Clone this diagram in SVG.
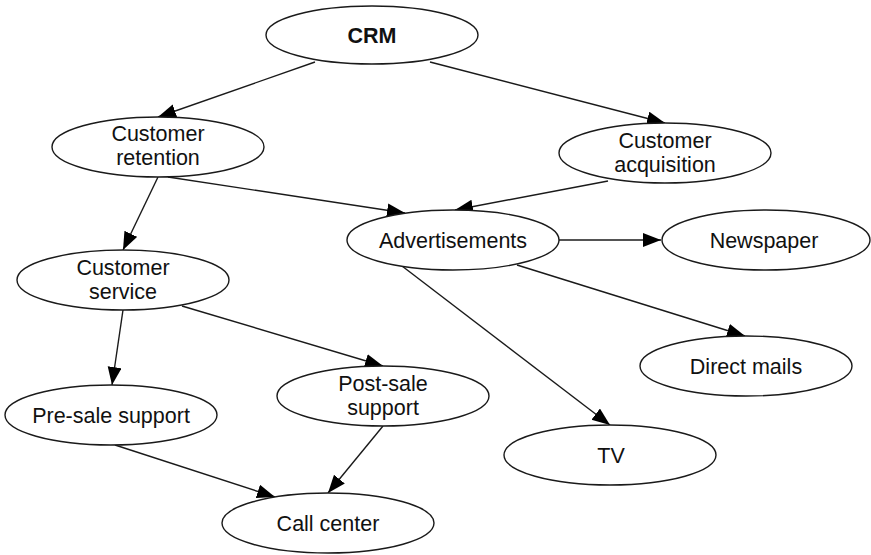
<svg xmlns="http://www.w3.org/2000/svg" width="871" height="555" viewBox="0 0 871 555">
  <style>
    .node ellipse { fill: #ffffff; stroke: #1a1a1a; stroke-width: 1.4; }
    .node text { font-family: "Liberation Sans", Arial, sans-serif; font-size: 21.5px; fill: #111111; text-anchor: middle; }
    .node text.bold { font-weight: bold; }
    .edges line { stroke: #1a1a1a; stroke-width: 1.4; marker-end: url(#arrow); }
  </style>
  <defs>
    <marker id="arrow" markerUnits="userSpaceOnUse" markerWidth="19" markerHeight="15" refX="18" refY="7" orient="auto">
      <path d="M0,0 L18,7 L0,14 z" fill="#000000"/>
    </marker>
  </defs>
  <rect width="871" height="555" fill="#ffffff"/>

  <!-- connectors -->
  <g id="edges" class="edges">
    <line x1="315" y1="62" x2="158" y2="117"/>
    <line x1="430" y1="62" x2="665" y2="123"/>
    <line x1="168" y1="177" x2="405" y2="213"/>
    <line x1="608" y1="181" x2="455" y2="210"/>
    <line x1="559" y1="240" x2="661" y2="240"/>
    <line x1="517" y1="265" x2="745" y2="336"/>
    <line x1="402" y1="266" x2="610" y2="425"/>
    <line x1="158" y1="177" x2="123" y2="250"/>
    <line x1="123" y1="310" x2="112" y2="385"/>
    <line x1="182" y1="306" x2="383" y2="366"/>
    <line x1="115" y1="445" x2="275" y2="497"/>
    <line x1="383" y1="426" x2="328" y2="493"/>
  </g>

  <!-- nodes -->
  <g id="crm" class="node">
    <ellipse cx="372" cy="35" rx="106" ry="29"/>
    <text class="bold" x="372" y="42.5">CRM</text>
  </g>
  <g id="customer-retention" class="node">
    <ellipse cx="158" cy="147" rx="106" ry="30"/>
    <text x="158" y="141">Customer</text>
    <text x="158" y="165">retention</text>
  </g>
  <g id="customer-acquisition" class="node">
    <ellipse cx="665" cy="153" rx="106" ry="30"/>
    <text x="665" y="147.5">Customer</text>
    <text x="665" y="171.5">acquisition</text>
  </g>
  <g id="advertisements" class="node">
    <ellipse cx="453" cy="240" rx="106" ry="30"/>
    <text x="453" y="247.5">Advertisements</text>
  </g>
  <g id="newspaper" class="node">
    <ellipse cx="766" cy="240" rx="104" ry="30"/>
    <text x="764" y="247.5">Newspaper</text>
  </g>
  <g id="customer-service" class="node">
    <ellipse cx="123" cy="280" rx="106" ry="30"/>
    <text x="123" y="274.5">Customer</text>
    <text x="123" y="298.5">service</text>
  </g>
  <g id="direct-mails" class="node">
    <ellipse cx="746" cy="366" rx="106" ry="30"/>
    <text x="746" y="373.5">Direct mails</text>
  </g>
  <g id="post-sale-support" class="node">
    <ellipse cx="383" cy="396" rx="106" ry="30"/>
    <text x="383" y="390.5">Post-sale</text>
    <text x="383" y="414.5">support</text>
  </g>
  <g id="pre-sale-support" class="node">
    <ellipse cx="111" cy="415" rx="106" ry="30"/>
    <text x="111" y="422.5">Pre-sale support</text>
  </g>
  <g id="tv" class="node">
    <ellipse cx="610" cy="455" rx="106" ry="30"/>
    <text x="611" y="462.5">TV</text>
  </g>
  <g id="call-center" class="node">
    <ellipse cx="328" cy="523" rx="106" ry="30"/>
    <text x="328" y="530.5">Call center</text>
  </g>
</svg>
